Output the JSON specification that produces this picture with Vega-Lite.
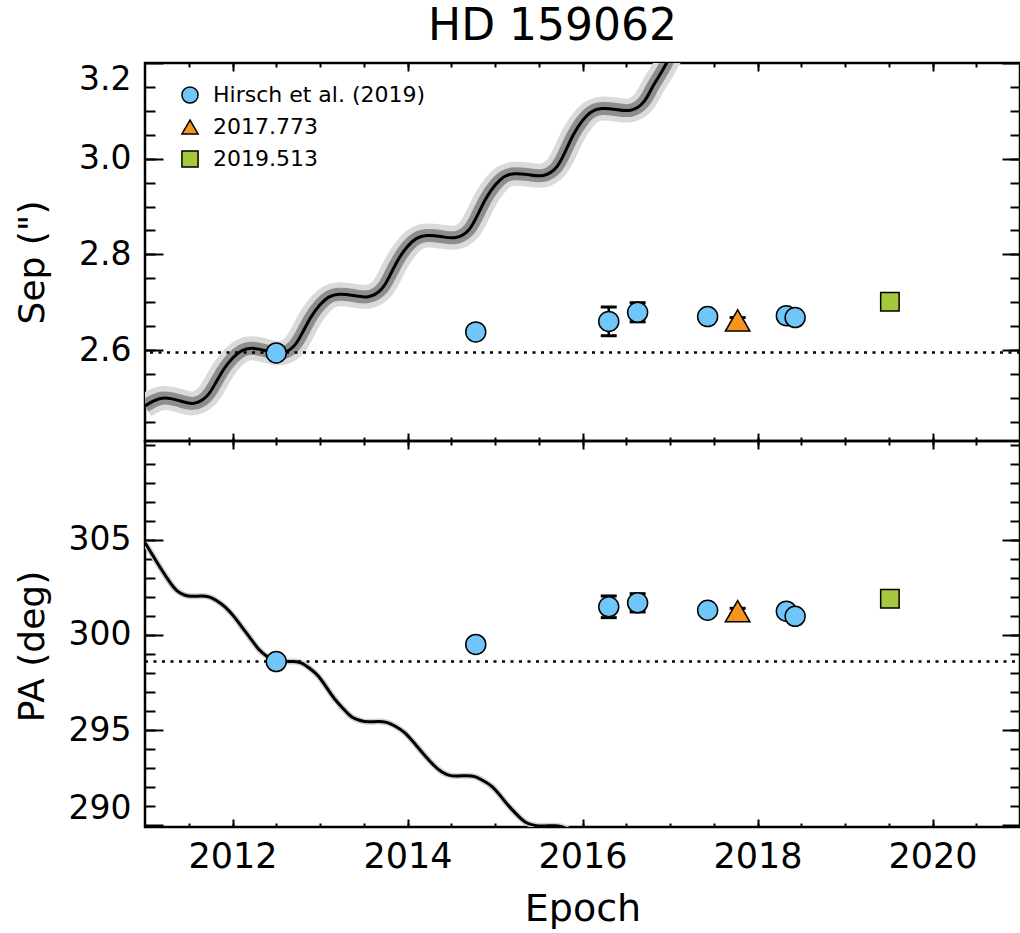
{
  "$schema": "https://vega.github.io/schema/vega-lite/v6.json",
  "padding": {"left": 12, "top": 4, "right": 2, "bottom": 4},
  "title": {"text": "HD 159062", "font": "DejaVu Sans", "fontSize": 44, "fontWeight": "normal", "color": "black", "anchor": "middle", "frame": "group", "offset": 12, "dx": -30},
  "config": {
    "font": "DejaVu Sans",
    "view": {"stroke": "black", "strokeWidth": 2.5},
    "axis": {"domain": false, "grid": false, "labelFont": "DejaVu Sans", "titleFont": "DejaVu Sans", "labelColor": "black", "titleColor": "black", "tickColor": "black", "tickWidth": 2, "labelFontSize": 33, "titleFontSize": 36, "titleFontWeight": "normal"}
  },
  "spacing": 0,
  "bounds": "flush",
  "resolve": {"scale": {"shape": "independent", "fill": "independent"}, "legend": {"shape": "independent", "fill": "independent"}},
  "datasets": {
    "obs": [
      {"epoch": 2012.5, "sep": 2.594, "pa": 298.6, "group": "Hirsch et al. (2019)"},
      {"epoch": 2014.78, "sep": 2.638, "pa": 299.5, "group": "Hirsch et al. (2019)"},
      {"epoch": 2016.3, "sep": 2.66, "sep_lo": 2.63, "sep_hi": 2.69, "pa": 301.48, "pa_lo": 300.91, "pa_hi": 302.05, "group": "Hirsch et al. (2019)"},
      {"epoch": 2016.63, "sep": 2.679, "sep_lo": 2.659, "sep_hi": 2.699, "pa": 301.69, "pa_lo": 301.21, "pa_hi": 302.17, "group": "Hirsch et al. (2019)"},
      {"epoch": 2017.43, "sep": 2.67, "pa": 301.3, "group": "Hirsch et al. (2019)"},
      {"epoch": 2017.773, "sep": 2.662, "sep_lo": 2.656, "sep_hi": 2.668, "pa": 301.25, "pa_lo": 301.1, "pa_hi": 301.4, "group": "2017.773"},
      {"epoch": 2018.33, "sep": 2.672, "pa": 301.25, "group": "Hirsch et al. (2019)"},
      {"epoch": 2018.43, "sep": 2.668, "pa": 300.98, "group": "Hirsch et al. (2019)"},
      {"epoch": 2019.513, "sep": 2.701, "pa": 301.9, "group": "2019.513"}
    ],
    "orbit_sep": [
      {"epoch": 2011.0, "sep": 2.4834}, {"epoch": 2011.1, "sep": 2.4938}, {"epoch": 2011.22, "sep": 2.5001}, {"epoch": 2011.38, "sep": 2.4949}, {"epoch": 2011.55, "sep": 2.4886},
      {"epoch": 2011.7, "sep": 2.5024}, {"epoch": 2011.8, "sep": 2.5289}, {"epoch": 2011.9, "sep": 2.56}, {"epoch": 2012.0, "sep": 2.583}, {"epoch": 2012.1, "sep": 2.598},
      {"epoch": 2012.22, "sep": 2.6038}, {"epoch": 2012.38, "sep": 2.5985}, {"epoch": 2012.55, "sep": 2.5933},
      {"epoch": 2012.7, "sep": 2.6082}, {"epoch": 2012.8, "sep": 2.6365}, {"epoch": 2012.9, "sep": 2.67}, {"epoch": 2013.0, "sep": 2.6947}, {"epoch": 2013.1, "sep": 2.7107},
      {"epoch": 2013.22, "sep": 2.7169}, {"epoch": 2013.38, "sep": 2.7141}, {"epoch": 2013.55, "sep": 2.7116},
      {"epoch": 2013.7, "sep": 2.7269}, {"epoch": 2013.8, "sep": 2.7563}, {"epoch": 2013.9, "sep": 2.7908}, {"epoch": 2014.0, "sep": 2.8163}, {"epoch": 2014.1, "sep": 2.833},
      {"epoch": 2014.22, "sep": 2.8394}, {"epoch": 2014.38, "sep": 2.8373}, {"epoch": 2014.55, "sep": 2.8352},
      {"epoch": 2014.7, "sep": 2.8511}, {"epoch": 2014.8, "sep": 2.8819}, {"epoch": 2014.9, "sep": 2.9179}, {"epoch": 2015.0, "sep": 2.9445}, {"epoch": 2015.1, "sep": 2.9619},
      {"epoch": 2015.22, "sep": 2.9686}, {"epoch": 2015.38, "sep": 2.9667}, {"epoch": 2015.55, "sep": 2.965},
      {"epoch": 2015.7, "sep": 2.9818}, {"epoch": 2015.8, "sep": 3.0138}, {"epoch": 2015.9, "sep": 3.0517}, {"epoch": 2016.0, "sep": 3.0796}, {"epoch": 2016.1, "sep": 3.0978},
      {"epoch": 2016.22, "sep": 3.1047}, {"epoch": 2016.38, "sep": 3.1028}, {"epoch": 2016.55, "sep": 3.1012},
      {"epoch": 2016.7, "sep": 3.1187}, {"epoch": 2016.8, "sep": 3.15}, {"epoch": 2016.9, "sep": 3.18}, {"epoch": 2017.0, "sep": 3.212}, {"epoch": 2017.1, "sep": 3.235}
    ],
    "orbit_pa": [
      {"epoch": 2011.0, "pa": 304.85}, {"epoch": 2011.1, "pa": 304.1}, {"epoch": 2011.19, "pa": 303.43}, {"epoch": 2011.28, "pa": 302.8}, {"epoch": 2011.36, "pa": 302.35},
      {"epoch": 2011.45, "pa": 302.1}, {"epoch": 2011.54, "pa": 302.03}, {"epoch": 2011.64, "pa": 302.05}, {"epoch": 2011.73, "pa": 302.0}, {"epoch": 2011.82, "pa": 301.8},
      {"epoch": 2011.92, "pa": 301.45}, {"epoch": 2012.02, "pa": 300.95}, {"epoch": 2012.11, "pa": 300.4}, {"epoch": 2012.2, "pa": 299.85}, {"epoch": 2012.3, "pa": 299.25},
      {"epoch": 2012.4, "pa": 298.85}, {"epoch": 2012.49, "pa": 298.62}, {"epoch": 2012.6, "pa": 298.6}, {"epoch": 2012.7, "pa": 298.6}, {"epoch": 2012.79, "pa": 298.52},
      {"epoch": 2012.88, "pa": 298.25}, {"epoch": 2012.98, "pa": 297.84}, {"epoch": 2013.08, "pa": 297.2}, {"epoch": 2013.17, "pa": 296.62}, {"epoch": 2013.27, "pa": 296.1},
      {"epoch": 2013.36, "pa": 295.7}, {"epoch": 2013.46, "pa": 295.5}, {"epoch": 2013.55, "pa": 295.43}, {"epoch": 2013.66, "pa": 295.45}, {"epoch": 2013.76, "pa": 295.4},
      {"epoch": 2013.86, "pa": 295.2}, {"epoch": 2013.97, "pa": 294.85}, {"epoch": 2014.08, "pa": 294.3}, {"epoch": 2014.2, "pa": 293.65}, {"epoch": 2014.3, "pa": 293.15},
      {"epoch": 2014.39, "pa": 292.8}, {"epoch": 2014.47, "pa": 292.63}, {"epoch": 2014.56, "pa": 292.58}, {"epoch": 2014.67, "pa": 292.6}, {"epoch": 2014.77, "pa": 292.55},
      {"epoch": 2014.86, "pa": 292.35}, {"epoch": 2014.96, "pa": 292.05}, {"epoch": 2015.06, "pa": 291.55}, {"epoch": 2015.15, "pa": 291.04}, {"epoch": 2015.25, "pa": 290.55},
      {"epoch": 2015.34, "pa": 290.18}, {"epoch": 2015.44, "pa": 290.0}, {"epoch": 2015.55, "pa": 289.95}, {"epoch": 2015.66, "pa": 289.97}, {"epoch": 2015.76, "pa": 289.92},
      {"epoch": 2015.86, "pa": 289.7}, {"epoch": 2015.96, "pa": 289.35}, {"epoch": 2016.1, "pa": 288.7}
    ]
  },
  "vconcat": [
    {
      "width": 875,
      "height": 378,
      "resolve": {"axis": {"x": "independent", "y": "independent"}},
      "layer": [
        {
          "data": {"name": "orbit_sep"},
          "mark": {"type": "line", "clip": true, "color": "#dadada", "strokeWidth": 24, "strokeCap": "butt", "interpolate": "natural"},
          "encoding": {
            "x": {"field": "epoch", "type": "quantitative", "scale": {"domain": [2011, 2021], "nice": false, "zero": false},
                  "axis": {"orient": "bottom", "values": [2011.5,2012,2012.5,2013,2013.5,2014,2014.5,2015,2015.5,2016,2016.5,2017,2017.5,2018,2018.5,2019,2019.5,2020,2020.5], "tickSize": -4, "labels": false, "title": null}},
            "y": {"field": "sep", "type": "quantitative", "scale": {"domain": [2.41, 3.2], "nice": false, "zero": false},
                  "axis": {"orient": "left", "values": [2.45,2.5,2.55,2.6,2.65,2.7,2.75,2.8,2.85,2.9,2.95,3.0,3.05,3.1,3.15], "tickSize": -10, "labels": false, "title": null}}
          }
        },
        {
          "data": {"name": "orbit_sep"},
          "mark": {"type": "line", "clip": true, "color": "#8e8e8e", "strokeWidth": 13, "strokeCap": "butt", "interpolate": "natural"},
          "encoding": {
            "x": {"field": "epoch", "type": "quantitative", "axis": {"orient": "bottom", "values": [2012,2014,2016,2018,2020], "tickSize": -8, "labels": false, "title": null}},
            "y": {"field": "sep", "type": "quantitative", "axis": {"orient": "left", "values": [2.6,2.8,3.0,3.2], "tickSize": -18, "labels": false, "title": null}}
          }
        },
        {
          "data": {"name": "orbit_sep"},
          "mark": {"type": "line", "clip": true, "color": "black", "strokeWidth": 3, "interpolate": "natural"},
          "encoding": {
            "x": {"field": "epoch", "type": "quantitative", "axis": {"orient": "top", "values": [2011.5,2012,2012.5,2013,2013.5,2014,2014.5,2015,2015.5,2016,2016.5,2017,2017.5,2018,2018.5,2019,2019.5,2020,2020.5], "tickSize": -4, "labels": false, "title": null}},
            "y": {"field": "sep", "type": "quantitative", "axis": {"orient": "right", "values": [2.45,2.5,2.55,2.6,2.65,2.7,2.75,2.8,2.85,2.9,2.95,3.0,3.05,3.1,3.15], "tickSize": -10, "labels": false, "title": null}}
          }
        },
        {
          "data": {"values": [{"sep": 2.595}]},
          "mark": {"type": "rule", "color": "black", "strokeWidth": 2.5, "strokeDash": [3, 5.5]},
          "encoding": {
            "y": {"field": "sep", "type": "quantitative", "axis": {"orient": "left", "values": [2.6,2.8,3.0,3.2], "format": ".1f", "ticks": false, "labelPadding": 14, "labelBaseline": {"condition": {"test": "datum.value >= 3.19", "value": "top"}, "value": "middle"}, "title": "Sep (\")", "titleX": -113, "titleY": 199, "titleBaseline": "middle"}}
          }
        },
        {
          "data": {"name": "obs"},
          "transform": [{"filter": "isValid(datum.sep_lo)"}],
          "mark": {"type": "errorbar", "color": "black", "opacity": 1, "thickness": 2.5, "ticks": {"size": 16, "thickness": 3, "color": "black", "opacity": 1}, "rule": {"strokeWidth": 2.5, "color": "black", "opacity": 1}},
          "encoding": {
            "x": {"field": "epoch", "type": "quantitative", "axis": null},
            "y": {"field": "sep_lo", "type": "quantitative", "axis": null},
            "y2": {"field": "sep_hi"}
          }
        },
        {
          "data": {"name": "obs"},
          "transform": [{"filter": "datum.group === 'Hirsch et al. (2019)'"}],
          "mark": {"type": "point", "filled": false, "stroke": "black", "strokeWidth": 1.5, "opacity": 1, "size": 400},
          "encoding": {
            "x": {"field": "epoch", "type": "quantitative", "axis": {"orient": "top", "values": [2012,2014,2016,2018,2020], "tickSize": -8, "labels": false, "title": null}},
            "y": {"field": "sep", "type": "quantitative", "axis": {"orient": "right", "values": [2.6,2.8,3.0,3.2], "tickSize": -18, "labels": false, "title": null}},
            "shape": {"field": "group", "type": "nominal", "scale": {"domain": ["Hirsch et al. (2019)", "2017.773", "2019.513"], "range": ["circle", "triangle-up", "square"]},
                      "legend": {"title": null, "orient": "none", "legendX": 34, "legendY": 21, "padding": 0, "labelFont": "DejaVu Sans", "labelFontSize": 22, "labelColor": "black", "labelLimit": 0, "symbolSize": 260, "symbolStrokeWidth": 1.5, "labelOffset": 12, "rowPadding": 9}},
            "fill": {"field": "group", "type": "nominal", "scale": {"domain": ["Hirsch et al. (2019)", "2017.773", "2019.513"], "range": ["#70C6F8", "#F7941D", "#A6C83C"]},
                     "legend": {"title": null, "orient": "none", "legendX": 34, "legendY": 21, "padding": 0, "labelFont": "DejaVu Sans", "labelFontSize": 22, "labelColor": "black", "labelLimit": 0, "symbolSize": 260, "symbolStrokeWidth": 1.5, "labelOffset": 12, "rowPadding": 9}}
          }
        },
        {
          "data": {"name": "obs"},
          "transform": [{"filter": "datum.group === '2017.773'"}],
          "mark": {"type": "point", "shape": "triangle-up", "filled": true, "fill": "#F7941D", "stroke": "black", "strokeWidth": 1.5, "opacity": 1, "size": 600},
          "encoding": {
            "x": {"field": "epoch", "type": "quantitative", "axis": null},
            "y": {"field": "sep", "type": "quantitative", "axis": null}
          }
        },
        {
          "data": {"name": "obs"},
          "transform": [{"filter": "datum.group === '2019.513'"}],
          "mark": {"type": "point", "shape": "square", "filled": true, "fill": "#A6C83C", "stroke": "black", "strokeWidth": 1.5, "opacity": 1, "size": 340},
          "encoding": {
            "x": {"field": "epoch", "type": "quantitative", "axis": null},
            "y": {"field": "sep", "type": "quantitative", "axis": null}
          }
        }
      ]
    },
    {
      "width": 875,
      "height": 386,
      "resolve": {"axis": {"x": "independent", "y": "independent"}},
      "layer": [
        {
          "data": {"name": "orbit_pa"},
          "mark": {"type": "line", "clip": true, "color": "#d0d0d0", "strokeWidth": 6, "interpolate": "natural"},
          "encoding": {
            "x": {"field": "epoch", "type": "quantitative", "scale": {"domain": [2011, 2021], "nice": false, "zero": false},
                  "axis": {"orient": "bottom", "values": [2011.5,2012,2012.5,2013,2013.5,2014,2014.5,2015,2015.5,2016,2016.5,2017,2017.5,2018,2018.5,2019,2019.5,2020,2020.5], "tickSize": -4, "labels": false, "title": null}},
            "y": {"field": "pa", "type": "quantitative", "scale": {"domain": [289.9, 310.2], "nice": false, "zero": false},
                  "axis": {"orient": "left", "values": [291,292,293,294,295,296,297,298,299,300,301,302,303,304,305,306,307,308,309,310], "tickSize": -10, "labels": false, "title": null}}
          }
        },
        {
          "data": {"name": "orbit_pa"},
          "mark": {"type": "line", "clip": true, "color": "black", "strokeWidth": 3, "interpolate": "natural"},
          "encoding": {
            "x": {"field": "epoch", "type": "quantitative", "axis": {"orient": "bottom", "values": [2012,2014,2016,2018,2020], "tickSize": -8, "labels": false, "title": null}},
            "y": {"field": "pa", "type": "quantitative", "axis": {"orient": "left", "values": [290,295,300,305], "tickSize": -18, "labels": false, "title": null}}
          }
        },
        {
          "data": {"name": "orbit_pa"},
          "mark": {"type": "line", "clip": true, "opacity": 0},
          "encoding": {
            "x": {"field": "epoch", "type": "quantitative", "axis": {"orient": "bottom", "values": [2012,2014,2016,2018,2020], "format": "d", "ticks": false, "labelPadding": 12, "labelFontSize": 35, "title": "Epoch", "titleFontSize": 38, "titleY": 82, "titleBaseline": "middle"}},
            "y": {"field": "pa", "type": "quantitative", "axis": {"orient": "left", "values": [290,295,300,305], "format": "d", "ticks": false, "labelPadding": 14, "labelBaseline": {"condition": {"test": "datum.value <= 290", "value": "bottom"}, "value": "middle"}, "title": "PA (deg)", "titleX": -113, "titleY": 205, "titleBaseline": "middle"}}
          }
        },
        {
          "data": {"values": [{"pa": 298.6}]},
          "mark": {"type": "rule", "color": "black", "strokeWidth": 2.5, "strokeDash": [3, 5.5]},
          "encoding": {
            "x": {"datum": 2011, "type": "quantitative", "axis": {"orient": "top", "values": [2011.5,2012,2012.5,2013,2013.5,2014,2014.5,2015,2015.5,2016,2016.5,2017,2017.5,2018,2018.5,2019,2019.5,2020,2020.5], "tickSize": -4, "labels": false, "title": null}},
            "x2": {"datum": 2021},
            "y": {"field": "pa", "type": "quantitative", "axis": {"orient": "right", "values": [291,292,293,294,295,296,297,298,299,300,301,302,303,304,305,306,307,308,309,310], "tickSize": -10, "labels": false, "title": null}}
          }
        },
        {
          "data": {"name": "obs"},
          "transform": [{"filter": "isValid(datum.pa_lo)"}],
          "mark": {"type": "errorbar", "color": "black", "opacity": 1, "thickness": 2.5, "ticks": {"size": 16, "thickness": 3, "color": "black", "opacity": 1}, "rule": {"strokeWidth": 2.5, "color": "black", "opacity": 1}},
          "encoding": {
            "x": {"field": "epoch", "type": "quantitative", "axis": null},
            "y": {"field": "pa_lo", "type": "quantitative", "axis": null},
            "y2": {"field": "pa_hi"}
          }
        },
        {
          "data": {"name": "obs"},
          "transform": [{"filter": "datum.group === 'Hirsch et al. (2019)'"}],
          "mark": {"type": "point", "shape": "circle", "filled": true, "fill": "#70C6F8", "stroke": "black", "strokeWidth": 1.5, "opacity": 1, "size": 400},
          "encoding": {
            "x": {"field": "epoch", "type": "quantitative", "axis": {"orient": "top", "values": [2012,2014,2016,2018,2020], "tickSize": -8, "labels": false, "title": null}},
            "y": {"field": "pa", "type": "quantitative", "axis": {"orient": "right", "values": [290,295,300,305], "tickSize": -18, "labels": false, "title": null}}
          }
        },
        {
          "data": {"name": "obs"},
          "transform": [{"filter": "datum.group === '2017.773'"}],
          "mark": {"type": "point", "shape": "triangle-up", "filled": true, "fill": "#F7941D", "stroke": "black", "strokeWidth": 1.5, "opacity": 1, "size": 600},
          "encoding": {
            "x": {"field": "epoch", "type": "quantitative", "axis": null},
            "y": {"field": "pa", "type": "quantitative", "axis": null}
          }
        },
        {
          "data": {"name": "obs"},
          "transform": [{"filter": "datum.group === '2019.513'"}],
          "mark": {"type": "point", "shape": "square", "filled": true, "fill": "#A6C83C", "stroke": "black", "strokeWidth": 1.5, "opacity": 1, "size": 340},
          "encoding": {
            "x": {"field": "epoch", "type": "quantitative", "axis": null},
            "y": {"field": "pa", "type": "quantitative", "axis": null}
          }
        }
      ]
    }
  ]
}
